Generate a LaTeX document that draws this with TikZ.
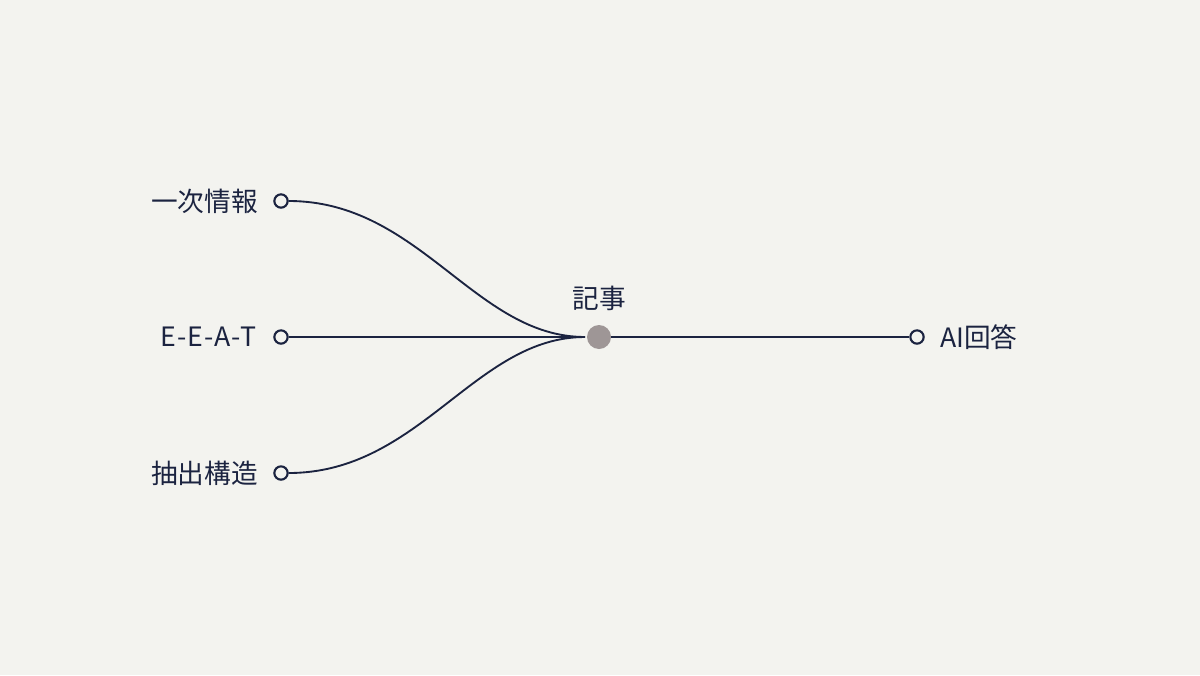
\documentclass[tikz,border=0pt]{standalone}
\usepackage{fontspec}
\setmainfont{Noto Sans CJK JP}
\definecolor{bg}{HTML}{F3F3EF}
\definecolor{ink}{HTML}{1B2340}
\definecolor{hub}{HTML}{9E9696}
\begin{document}
\begin{tikzpicture}[x=0.75pt,y=-0.75pt,
  port/.style={circle,draw=ink,line width=1.6pt,fill=bg,inner sep=0pt,minimum size=10pt},
  wire/.style={draw=ink,line width=1.4pt},
  lbl/.style={text=ink,font=\fontsize{20}{24}\selectfont,inner sep=0pt}]
\fill[bg] (0,0) rectangle (1200,675);
\useasboundingbox (0,0) rectangle (1200,675);
\coordinate (m) at (585,337);
\node[port] (a) at (281,201) {};
\node[port] (b) at (281,337) {};
\node[port] (c) at (281,473) {};
\node[port] (r) at (917,337) {};
\node[circle,fill=hub,inner sep=0pt,minimum size=18pt] (h) at (599,337) {};
\draw[wire] (a.east) .. controls (420,201) and (475,337) .. (m);
\draw[wire] (c.east) .. controls (420,473) and (475,337) .. (m);
\draw[wire] (b.east) -- (m);
\draw[wire] (h.east) -- (r.west);
\node[lbl,anchor=east] (ta) at (258,201) {一次情報};
\node[lbl,anchor=east] (tb) at (257,337) {\addfontfeatures{LetterSpace=4}E-E-A-T};
\node[lbl,anchor=east] (tc) at (258,473) {抽出構造};
\node[lbl] (th) at (599,298) {記事};
\node[lbl,anchor=west] (tr) at (940,337) {AI回答};
\end{tikzpicture}
\end{document}
